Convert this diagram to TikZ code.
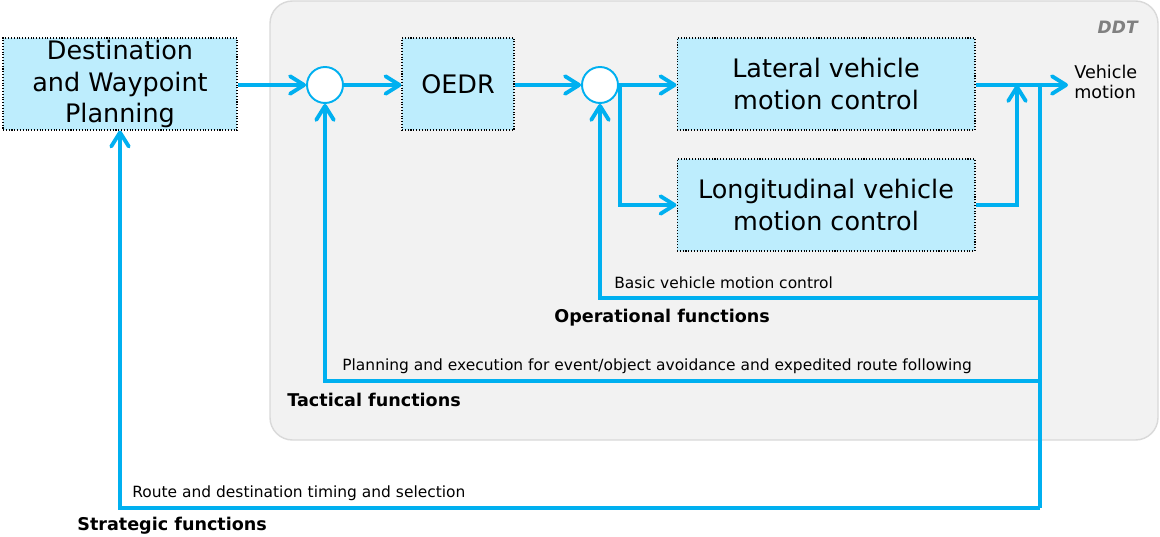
\documentclass[tikz,border=0pt]{standalone}
\usepackage{fontspec}
\setmainfont{DejaVu Sans}
\usetikzlibrary{arrows.meta}

\definecolor{flowblue}{HTML}{00B0F0}
\definecolor{boxblue}{HTML}{BDEDFD}
\definecolor{ddtfill}{HTML}{F2F2F2}
\definecolor{ddtedge}{HTML}{D9D9D9}

\begin{document}
\begin{tikzpicture}[x=0.02cm, y=-0.02cm,
  blk/.style={draw, densely dotted, line width=0.6pt, fill=boxblue, align=center,
    inner sep=0pt, minimum height=1.84cm, font=\fontsize{14.5}{18}\selectfont},
  sum/.style={circle, draw=flowblue, line width=1.1pt, fill=white,
    minimum size=0.72cm, inner sep=0pt},
  flow/.style={flowblue, line width=2.2pt, -{Straight Barb[length=8pt,width=10pt,round]}},
  fbline/.style={flowblue, line width=2.2pt},
  lbl/.style={anchor=west, inner sep=0pt, font=\fontsize{8.8}{10}\selectfont},
  grp/.style={anchor=west, inner sep=0pt, font=\fontsize{10}{12}\selectfont\bfseries}]

  \useasboundingbox (0,0) rectangle (1160,537);

  % DDT area
  \draw[fill=ddtfill, draw=ddtedge, line width=0.8pt, rounded corners=0.45cm]
    (270,1) rectangle (1158,440);
  \node[anchor=east, inner sep=0pt, text=gray,
    font=\fontsize{9.7}{11}\selectfont\bfseries\itshape] (ddt) at (1138,27) {DDT};

  % blocks
  \node[blk, minimum width=4.68cm] (dest) at (120,84) {Destination\\and Waypoint\\Planning};
  \node[sum] (s1) at (325,85) {};
  \node[blk, minimum width=2.24cm] (oedr) at (458,84) {OEDR};
  \node[sum] (s2) at (600,85) {};
  \node[blk, minimum width=5.96cm] (lat) at (826,84) {Lateral vehicle\\motion control};
  \node[blk, minimum width=5.96cm] (lon) at (826,205) {Longitudinal vehicle\\motion control};

  \node[anchor=west, align=left, inner sep=0pt,
    font=\fontsize{10}{11.5}\selectfont] (out) at (1074,82) {Vehicle\\motion};

  % points on the lines
  \coordinate (br) at (620,85);
  \coordinate (vm) at (1068,85);
  \coordinate (jn) at (1017,85);
  \coordinate (fb0) at (1040,85);
  \coordinate (fb1) at (1040,298);
  \coordinate (fb2) at (1040,381);
  \coordinate (fb3) at (1040,508);

  % forward path
  \draw[flow] (dest.east |- s1) -- (s1.west);
  \draw[flow] (s1.east) -- (oedr.west |- s1);
  \draw[flow] (oedr.east |- s2) -- (s2.west);
  \draw[flow] (s2.east) -- (lat.west |- s2);
  \draw[flow] (br) |- (lon.west);
  \draw[flow] (lat.east |- vm) -- (vm);
  \draw[flow] (lon.east) -| (jn);

  % feedback loops
  \draw[fbline] (fb0) -- (fb3);
  \draw[flow] (fb1) -| (s2.south);
  \draw[flow] (fb2) -| (s1.south);
  \draw[flow] (fb3) -| (dest.south);

  % texts
  \node[lbl] (tb) at (614,283) {Basic vehicle motion control};
  \node[grp] (gop) at (554,318) {Operational functions};
  \node[lbl] (tp) at (342,366) {Planning and execution for event/object avoidance and expedited route following};
  \node[grp] (gtac) at (287,400) {Tactical functions};
  \node[lbl] (tr) at (132,493) {Route and destination timing and selection};
  \node[grp] (gstr) at (77,526) {Strategic functions};
\end{tikzpicture}
\end{document}
